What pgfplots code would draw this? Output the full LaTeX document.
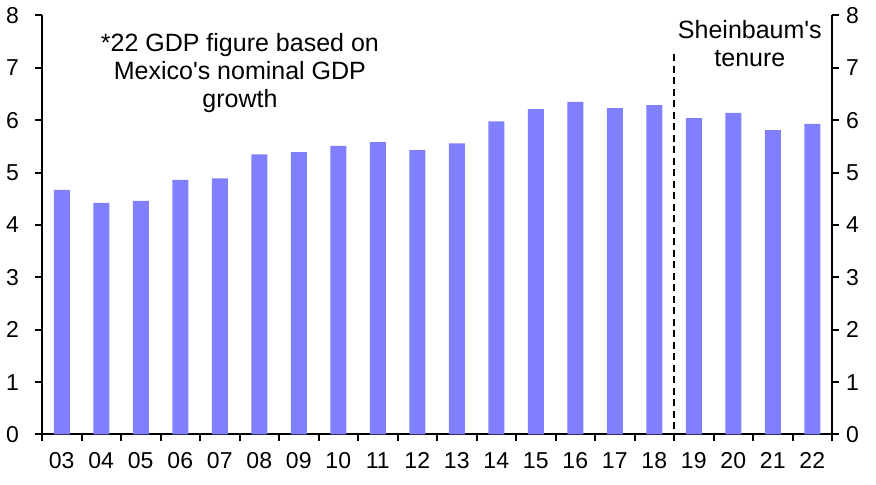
\documentclass[border=0pt]{standalone}
\usepackage{pgfplots}
\pgfplotsset{compat=1.18}
\usepackage{fontspec}
\setmainfont{Liberation Sans}[Ligatures=TeXOff]
\definecolor{barblue}{HTML}{8080FF}
\begin{document}
\fontsize{23bp}{28bp}\selectfont
\begin{tikzpicture}[x=1bp,y=1bp]
\path[use as bounding box] (0,0) rectangle (876,485);
\begin{axis}[
  at={(42bp,50.5bp)}, anchor=south west,
  scale only axis, width=790bp, height=419bp,
  xmin=-0.5, xmax=19.5, ymin=0, ymax=8,
  axis x line*=bottom, axis y line*=left,
  axis line style={line width=2bp, -},
  every tick/.style={line width=2bp, black},
  tick align=outside,
  major tick length=7bp, minor tick length=7bp,
  xtick={0,...,19},
  xticklabels={03,04,05,06,07,08,09,10,11,12,13,14,15,16,17,18,19,20,21,22},
  major x tick style={draw=none},
  minor xtick={-0.5,0.5,1.5,2.5,3.5,4.5,5.5,6.5,7.5,8.5,9.5,10.5,11.5,12.5,13.5,14.5,15.5,16.5,17.5,18.5,19.5},
  ytick={0,1,...,8},
  xticklabel style={anchor=north, inner sep=0pt, yshift=-11bp},
  yticklabel style={anchor=east, inner sep=0pt, xshift=-16bp},
  /pgf/number format/assume math mode=true,
  ticklabel style={font=\fontsize{23bp}{28bp}\selectfont},
  clip=false,
]
\addplot[ybar, bar width=16bp, bar shift=0pt, fill=barblue, draw=none] coordinates {
(0,4.67) (1,4.42) (2,4.46) (3,4.86) (4,4.89) (5,5.35) (6,5.39) (7,5.51) (8,5.58) (9,5.43)
(10,5.56) (11,5.98) (12,6.21) (13,6.35) (14,6.23) (15,6.29) (16,6.04) (17,6.14) (18,5.81) (19,5.93)
};
\addplot[black, line width=2bp, dash pattern=on 7bp off 4.5bp] coordinates {(15.5,0.1) (15.5,7.34)};
\node[align=center, anchor=north, inner sep=0pt, font=\fontsize{25bp}{28bp}\selectfont] at (axis cs:4.51,7.67) {*22 GDP figure based on\\Mexico's nominal GDP\\growth};
\node[align=center, anchor=north, inner sep=0pt, font=\fontsize{25bp}{28bp}\selectfont] at (axis cs:17.42,7.91) {Sheinbaum's\\tenure};
\end{axis}
\begin{axis}[
  at={(42bp,50.5bp)}, anchor=south west,
  scale only axis, width=790bp, height=419bp,
  xmin=-0.5, xmax=19.5, ymin=0, ymax=8,
  axis x line=none, axis y line*=right,
  axis line style={line width=2bp, -},
  every tick/.style={line width=2bp, black},
  tick align=outside,
  major tick length=7bp,
  ytick={0,1,...,8},
  yticklabel style={anchor=west, inner sep=0pt, xshift=7bp},
  /pgf/number format/assume math mode=true,
  ticklabel style={font=\fontsize{23bp}{28bp}\selectfont},
]
\addplot[draw=none] coordinates {(0,0)};
\end{axis}
\end{tikzpicture}
\end{document}
